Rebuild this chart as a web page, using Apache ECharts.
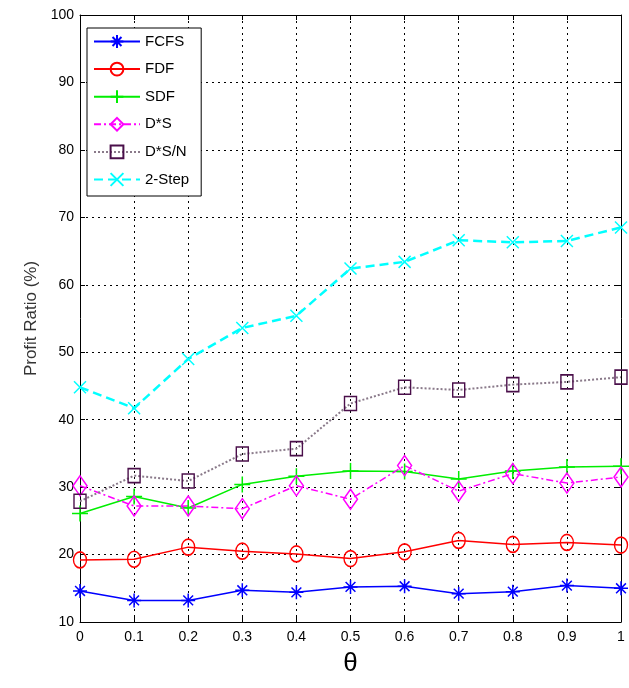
<!DOCTYPE html>
<html>
<head>
<meta charset="utf-8">
<script src="https://cdn.jsdelivr.net/npm/echarts@6/dist/echarts.min.js"></script>
<style>
html,body{margin:0;padding:0;background:#fff;}
#chart{width:629px;height:688px;}
</style>
</head>
<body>
<div id="chart"></div>
<script>
var thetas = [0, 0.1, 0.2, 0.3, 0.4, 0.5, 0.6, 0.7, 0.8, 0.9, 1];
var fcfs  = [14.6, 13.2, 13.2, 14.7, 14.4, 15.2, 15.3, 14.2, 14.5, 15.4, 15.0];
var fdf   = [19.2, 19.3, 21.1, 20.5, 20.1, 19.4, 20.4, 22.1, 21.5, 21.8, 21.4];
var sdf   = [26.1, 28.6, 26.9, 30.4, 31.6, 32.4, 32.3, 31.2, 32.4, 33.0, 33.1];
var dstar = [30.2, 27.2, 27.2, 26.8, 30.2, 28.2, 33.2, 29.4, 32.0, 30.6, 31.5];
var dstarN= [27.9, 31.7, 30.9, 34.9, 35.7, 42.4, 44.8, 44.4, 45.2, 45.6, 46.3];
var twoStep=[44.8, 41.7, 49.0, 53.6, 55.4, 62.4, 63.4, 66.6, 66.3, 66.5, 68.5];
var seriesNames = ['FCFS', 'FDF', 'SDF', "D*S", "D*S/N", '2-Step'];

function pairs(vals){ return thetas.map(function(t,i){ return [t, vals[i]]; }); }

var FONT = '"Liberation Sans", Arial, Helvetica, sans-serif';
var STAR = 'path://M5 0 L5 10 M0 5 L10 5 M1.5 1.5 L8.5 8.5 M8.5 1.5 L1.5 8.5';
var PLUS = 'path://M5 0 L5 10 M0 5 L10 5';
var XMARK = 'path://M0 0 L10 10 M10 0 L0 10';

function mk(name, vals, color, lineColor, symbol, size, ltype, lwidth){
  return {
    name: name, type: 'line', data: pairs(vals),
    symbol: symbol, symbolSize: size, showSymbol: true,
    lineStyle: {color: lineColor, width: lwidth, type: ltype},
    itemStyle: {color: 'rgba(0,0,0,0)', borderColor: color, borderWidth: 1.5},
    emphasis: {disabled: true},
    animation: false, z: 3
  };
}

var chart = echarts.init(document.getElementById('chart'), null, {renderer: 'canvas'});
var axisLbl = {color: '#000', fontSize: 14, fontFamily: FONT};
chart.setOption({
  animation: false,
  backgroundColor: '#fff',
  grid: {left: 80, right: 8, top: 15, bottom: 66, containLabel: false},
  legend: {
    data: seriesNames,
    orient: 'vertical',
    left: 87, top: 28,
    width: 113,
    backgroundColor: '#fff',
    borderColor: '#000', borderWidth: 1,
    padding: [6, 12, 9, 6],
    itemWidth: 46, itemHeight: 16, itemGap: 12.6,
    textStyle: {color: '#000', fontSize: 15, fontFamily: FONT},
    selectedMode: false
  },
  xAxis: [{
    type: 'value', min: 0, max: 1, interval: 0.1,
    name: 'θ', nameLocation: 'middle', nameGap: 29,
    nameTextStyle: {color: '#000', fontSize: 26, fontFamily: FONT},
    axisLine: {show: true, onZero: false, lineStyle: {color: '#000', width: 1}},
    axisTick: {show: true, inside: true, length: 5, lineStyle: {color: '#000'}},
    axisLabel: Object.assign({margin: 8, formatter: function(v){ return String(+v.toFixed(1)); }}, axisLbl),
    splitLine: {show: true, lineStyle: {color: '#000', type: [2, 4], width: 1}}
  }, {
    type: 'value', min: 0, max: 1, interval: 0.1, position: 'top',
    axisLine: {show: true, onZero: false, lineStyle: {color: '#000', width: 1}},
    axisTick: {show: true, inside: true, length: 5, lineStyle: {color: '#000'}},
    axisLabel: {show: false}, splitLine: {show: false}
  }],
  yAxis: [{
    type: 'value', min: 10, max: 100, interval: 10,
    name: 'Profit Ratio (%)', nameLocation: 'middle', nameGap: 34,
    nameTextStyle: {color: '#333', fontSize: 17, fontFamily: FONT},
    axisLine: {show: true, onZero: false, lineStyle: {color: '#000', width: 1}},
    axisTick: {show: true, inside: true, length: 5, lineStyle: {color: '#000'}},
    axisLabel: Object.assign({margin: 6}, axisLbl),
    splitLine: {show: true, lineStyle: {color: '#000', type: [2, 4], width: 1}}
  }, {
    type: 'value', min: 10, max: 100, interval: 10, position: 'right',
    axisLine: {show: true, onZero: false, lineStyle: {color: '#000', width: 1}},
    axisTick: {show: true, inside: true, length: 5, lineStyle: {color: '#000'}},
    axisLabel: {show: false}, splitLine: {show: false}
  }],
  series: [
    mk('FCFS', fcfs, '#0000ff', '#0000ff', STAR, 14, 'solid', 1.5),
    mk('FDF', fdf, '#ff0000', '#ff0000', 'circle', [13, 16], 'solid', 1.5),
    mk('SDF', sdf, '#00ee00', '#00ee00', PLUS, 16, 'solid', 1.5),
    mk("D*S", dstar, '#ff00ff', '#ff00ff', 'diamond', [14, 20], [7, 3, 2, 3], 1.5),
    mk("D*S/N", dstarN, '#4a0f4a', '#8a7a8a', 'rect', [12, 14], [2, 2], 2),
    mk('2-Step', twoStep, '#00ffff', '#00ffff', XMARK, 12, [9, 5], 2.5)
  ]
});
</script>
</body>
</html>
